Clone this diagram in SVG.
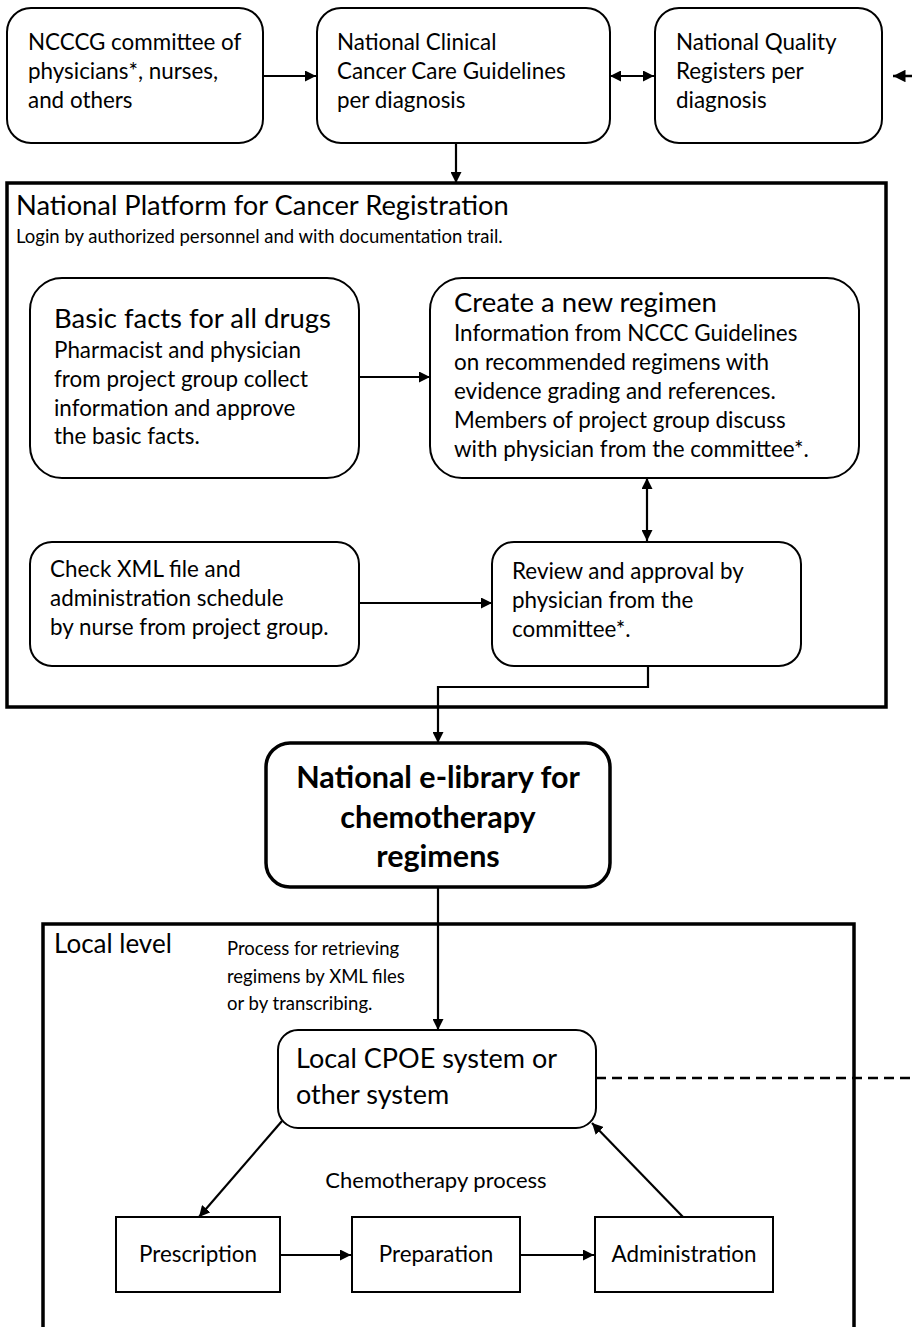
<svg xmlns="http://www.w3.org/2000/svg" width="912" height="1327" viewBox="0 0 912 1327">
  <defs>
    <marker id="arr" viewBox="0 0 10 10" refX="10" refY="5" markerWidth="5" markerHeight="5" orient="auto-start-reverse" markerUnits="strokeWidth">
      <path d="M0,0 L10,5 L0,10 z" fill="#000"/>
    </marker>
    <style>
      text { font-family: Lato, "Liberation Sans", sans-serif; fill: #000; }
      .box { fill: #fff; stroke: #000; stroke-width: 2; }
      .frame { fill: none; stroke: #000; stroke-width: 3.5; }
      .sq { fill: #fff; stroke: #000; stroke-width: 2; }
      .t20 { font-size: 22.4px; }
      .t25 { font-size: 27.5px; }
      .t17 { font-size: 18.5px; }
      .t18 { font-size: 22px; }
      .bold { font-size: 30.5px; font-weight: bold; }
      .link { fill: none; stroke: #000; stroke-width: 2.2; }
      .dash { fill: none; stroke: #000; stroke-width: 2.5; stroke-dasharray: 10 6; }
    </style>
  </defs>

  <!-- outer frames -->
  <g id="platform">
    <rect class="frame" x="7" y="183" width="879" height="524"/>
    <text style="font-size:27.3px" x="16" y="215">National Platform for Cancer Registration</text>
    <text class="t17" x="16" y="243">Login by authorized personnel and with documentation trail.</text>
  </g>
  <g id="local-level">
    <rect class="frame" x="43" y="924" width="811" height="420"/>
    <text style="font-size:26px" x="54" y="953">Local level</text>
    <text class="t17" x="227" y="955">Process for retrieving</text>
    <text class="t17" x="227" y="983">regimens by XML files</text>
    <text class="t17" x="227" y="1010">or by transcribing.</text>
    <text class="t18" x="436" y="1188" text-anchor="middle">Chemotherapy process</text>
  </g>

  <!-- connectors -->
  <g id="connectors">
    <line class="link" x1="263" y1="76" x2="316" y2="76" marker-end="url(#arr)"/>
    <line class="link" x1="610" y1="76" x2="654" y2="76" marker-start="url(#arr)" marker-end="url(#arr)"/>
    <line class="dash" x1="912" y1="76" x2="893" y2="76" marker-end="url(#arr)"/>
    <line class="link" x1="456" y1="143" x2="456" y2="183" marker-end="url(#arr)"/>
    <line class="link" x1="359" y1="377" x2="430" y2="377" marker-end="url(#arr)"/>
    <line class="link" x1="647" y1="478" x2="647" y2="541" marker-start="url(#arr)" marker-end="url(#arr)"/>
    <line class="link" x1="359" y1="603" x2="492" y2="603" marker-end="url(#arr)"/>
    <polyline class="link" points="648,665 648,687 438,687 438,743" marker-end="url(#arr)"/>
    <line class="link" x1="438" y1="887" x2="438" y2="1030" marker-end="url(#arr)"/>
    <line class="dash" x1="596" y1="1078" x2="912" y2="1078"/>
    <line class="link" x1="282" y1="1121" x2="199" y2="1217" marker-end="url(#arr)"/>
    <line class="link" x1="683" y1="1217" x2="592" y2="1123" marker-end="url(#arr)"/>
    <line class="link" x1="280" y1="1255" x2="351" y2="1255" marker-end="url(#arr)"/>
    <line class="link" x1="520" y1="1255" x2="594" y2="1255" marker-end="url(#arr)"/>
  </g>

  <!-- national level -->
  <g id="committee">
    <rect class="box" x="7" y="8" width="256" height="135" rx="24"/>
    <text class="t20" x="28" y="50">NCCCG committee of</text>
    <text class="t20" x="28" y="79">physicians*, nurses,</text>
    <text class="t20" x="28" y="108">and others</text>
  </g>
  <g id="guidelines">
    <rect class="box" x="317" y="8" width="293" height="135" rx="24"/>
    <text class="t20" x="337" y="50">National Clinical</text>
    <text class="t20" x="337" y="79">Cancer Care Guidelines</text>
    <text class="t20" x="337" y="108">per diagnosis</text>
  </g>
  <g id="registers">
    <rect class="box" x="655" y="8" width="227" height="135" rx="24"/>
    <text class="t20" x="676" y="50">National Quality</text>
    <text class="t20" x="676" y="79">Registers per</text>
    <text class="t20" x="676" y="108">diagnosis</text>
  </g>

  <!-- platform contents -->
  <g id="basic-facts">
    <rect class="box" x="30" y="278" width="329" height="200" rx="32"/>
    <text class="t25" x="54" y="328">Basic facts for all drugs</text>
    <text class="t20" x="54" y="358">Pharmacist and physician</text>
    <text class="t20" x="54" y="387">from project group collect</text>
    <text class="t20" x="54" y="416">information and approve</text>
    <text class="t20" x="54" y="444">the basic facts.</text>
  </g>
  <g id="new-regimen">
    <rect class="box" x="430" y="278" width="429" height="200" rx="32"/>
    <text class="t25" x="454" y="312">Create a new regimen</text>
    <text class="t20" x="454" y="341">Information from NCCC Guidelines</text>
    <text class="t20" x="454" y="370">on recommended regimens with</text>
    <text class="t20" x="454" y="399">evidence grading and references.</text>
    <text class="t20" x="454" y="428">Members of project group discuss</text>
    <text class="t20" x="454" y="457">with physician from the committee*.</text>
  </g>
  <g id="check-xml">
    <rect class="box" x="30" y="542" width="329" height="124" rx="22"/>
    <text class="t20" x="50" y="577">Check XML file and</text>
    <text class="t20" x="50" y="606">administration schedule</text>
    <text class="t20" x="50" y="635">by nurse from project group.</text>
  </g>
  <g id="review">
    <rect class="box" x="492" y="542" width="309" height="124" rx="22"/>
    <text class="t20" x="512" y="579">Review and approval by</text>
    <text class="t20" x="512" y="608">physician from the</text>
    <text class="t20" x="512" y="637">committee*.</text>
  </g>

  <!-- e-library -->
  <g id="e-library">
    <rect x="266" y="743" width="344" height="144" rx="24" fill="#fff" stroke="#000" stroke-width="3.5"/>
    <text class="bold" x="438" y="788" text-anchor="middle">National e-library for</text>
    <text class="bold" x="438" y="828" text-anchor="middle">chemotherapy</text>
    <text class="bold" x="438" y="867" text-anchor="middle">regimens</text>
  </g>

  <!-- local level -->
  <g id="cpoe">
    <rect class="box" x="278" y="1030" width="318" height="98" rx="20"/>
    <text style="font-size:27px" x="296" y="1068">Local CPOE system or</text>
    <text style="font-size:27px" x="296" y="1104">other system</text>
  </g>
  <g id="prescription">
    <rect class="sq" x="116" y="1217" width="164" height="75"/>
    <text class="t20" x="198" y="1262" text-anchor="middle">Prescription</text>
  </g>
  <g id="preparation">
    <rect class="sq" x="352" y="1217" width="168" height="75"/>
    <text class="t20" x="436" y="1262" text-anchor="middle">Preparation</text>
  </g>
  <g id="administration">
    <rect class="sq" x="595" y="1217" width="178" height="75"/>
    <text class="t20" x="684" y="1262" text-anchor="middle">Administration</text>
  </g>
</svg>
